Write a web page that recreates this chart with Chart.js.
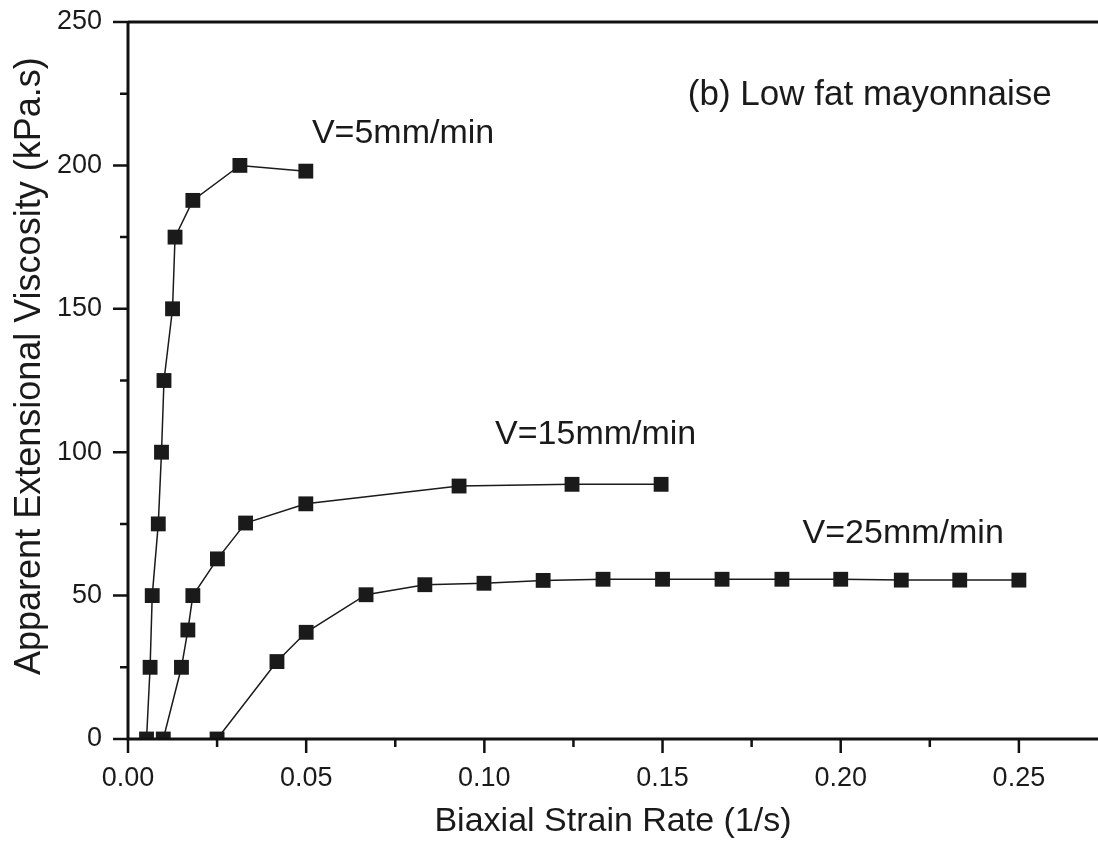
<!DOCTYPE html>
<html>
<head>
<meta charset="utf-8">
<script src="https://cdn.jsdelivr.net/npm/chart.js@4.4.1/dist/chart.umd.min.js"></script>
<style>
  html, body { margin: 0; padding: 0; background: #fff; }
  #wrap { width: 1098px; height: 846px; }
</style>
</head>
<body>
<div id="wrap"><canvas id="myChart"></canvas></div>
<script>
// strain rate (1/s) vs viscosity (kPa.s)
const rate5 = [0.0052, 0.0062, 0.0068, 0.0085, 0.0094, 0.0101, 0.0125, 0.0132, 0.0182, 0.0314, 0.0499];
const visc5 = [0, 25, 50, 75, 100, 125, 150, 175, 187.8, 200, 198];
const rate15 = [0.0099, 0.0150, 0.0168, 0.0182, 0.0251, 0.0330, 0.0499, 0.0929, 0.1246, 0.1496];
const visc15 = [0, 25, 38, 50, 62.8, 75.3, 82, 88.2, 88.8, 88.8];
const rate25 = [0.0250, 0.0418, 0.0500, 0.0668, 0.0833, 0.0999, 0.1165, 0.1333, 0.1500, 0.1667, 0.1835, 0.2000, 0.2170, 0.2334, 0.2500];
const visc25 = [0, 27, 37.2, 50.3, 53.8, 54.3, 55.3, 55.7, 55.7, 55.7, 55.7, 55.7, 55.4, 55.4, 55.4];

const xMajor = [0, 0.05, 0.10, 0.15, 0.20, 0.25];
const xMinor = [0.025, 0.075, 0.125, 0.175, 0.225];
const yMajor = [0, 50, 100, 150, 200, 250];
const yMinor = [25, 75, 125, 175, 225];

const yTitle = 'Apparent Extensional Viscosity (kPa.s)';
const notes = [
    { text: '(b) Low fat mayonnaise', x: 0.1571, y: 221 },
    { text: 'V=5mm/min', x: 0.0516, y: 207.8 },
    { text: 'V=15mm/min', x: 0.1030, y: 102.9 },
    { text: 'V=25mm/min', x: 0.1893, y: 68.3 }
];

const FONT = '"Liberation Sans", Arial, Helvetica, sans-serif';

function points(xs, ys) {
    return xs.map((x, i) => ({ x: x, y: ys[i] }));
}

function series(xs, ys) {
    return {
        data: points(xs, ys),
        showLine: true,
        borderColor: '#1a1a1a',
        borderWidth: 1.5,
        backgroundColor: '#1a1a1a',
        pointStyle: 'rect',
        pointRadius: 10.5,
        pointBorderWidth: 0,
        pointHoverRadius: 10.5
    };
}

// axis lines, ticks, y title and the text notes
const frame = {
    id: 'frame',
    afterDatasetsDraw(chart) {
        const ctx = chart.ctx;
        const a = chart.chartArea;
        const xs = chart.scales.x, ys = chart.scales.y;
        ctx.save();
        ctx.strokeStyle = '#111';
        ctx.lineWidth = 3;
        ctx.beginPath();
        ctx.moveTo(a.left, a.top);
        ctx.lineTo(a.right, a.top);
        ctx.moveTo(a.left, a.top);
        ctx.lineTo(a.left, a.bottom);
        ctx.lineTo(a.right, a.bottom);
        ctx.stroke();
        ctx.lineWidth = 2.5;
        ctx.beginPath();
        xMajor.forEach(v => { const p = xs.getPixelForValue(v); ctx.moveTo(p, a.bottom); ctx.lineTo(p, a.bottom + 14); });
        xMinor.forEach(v => { const p = xs.getPixelForValue(v); ctx.moveTo(p, a.bottom); ctx.lineTo(p, a.bottom + 8); });
        yMajor.forEach(v => { const p = ys.getPixelForValue(v); ctx.moveTo(a.left, p); ctx.lineTo(a.left - 15, p); });
        yMinor.forEach(v => { const p = ys.getPixelForValue(v); ctx.moveTo(a.left, p); ctx.lineTo(a.left - 8, p); });
        ctx.stroke();
        ctx.fillStyle = '#1a1a1a';
        ctx.textBaseline = 'alphabetic';
        ctx.textAlign = 'left';
        notes.forEach((n, i) => {
            ctx.font = (i === 0 ? '35px ' : '34px ') + FONT;
            ctx.fillText(n.text, xs.getPixelForValue(n.x), ys.getPixelForValue(n.y));
        });
        // y title, a bit above the axis middle as in the original
        ctx.translate(30, ys.getPixelForValue(130));
        ctx.rotate(-Math.PI / 2);
        ctx.textAlign = 'center';
        ctx.textBaseline = 'middle';
        ctx.font = '36px ' + FONT;
        ctx.fillText(yTitle, 0, 0);
        ctx.restore();
    }
};

const ctx = document.getElementById('myChart');
const chart = new Chart(ctx, {
    type: 'scatter',
    data: {
        datasets: [series(rate5, visc5), series(rate15, visc15), series(rate25, visc25)]
    },
    options: {
        responsive: true,
        maintainAspectRatio: false,
        animation: false,
        layout: { autoPadding: false, padding: { top: 22, right: 0, left: 0, bottom: 0 } },
        plugins: {
            legend: { display: false },
            tooltip: { enabled: false }
        },
        scales: {
            x: {
                type: 'linear',
                min: 0,
                max: 0.2722,
                afterFit: (s) => {
                    s.height = 107;
                    s.paddingLeft = 0;
                    s.paddingRight = 0;
                },
                afterBuildTicks: (s) => { s.ticks = xMajor.map(v => ({ value: v })); },
                grid: { display: false, drawTicks: false },
                border: { display: false },
                ticks: {
                    padding: 23,
                    color: '#1a1a1a',
                    font: { family: FONT, size: 27 },
                    maxRotation: 0,
                    callback: (v) => v.toFixed(2)
                },
                title: {
                    display: true,
                    text: 'Biaxial Strain Rate (1/s)',
                    color: '#1a1a1a',
                    font: { family: FONT, size: 34 },
                    padding: { top: 0, bottom: 4 }
                }
            },
            y: {
                min: 0,
                max: 250,
                afterFit: (s) => {
                    s.width = 128;
                    s.paddingTop = 0;
                    s.paddingBottom = 0;
                },
                afterBuildTicks: (s) => { s.ticks = yMajor.map(v => ({ value: v })); },
                grid: { display: false, drawTicks: false },
                border: { display: false },
                ticks: {
                    padding: 26,
                    color: '#1a1a1a',
                    font: { family: FONT, size: 27 }
                }
            }
        }
    },
    plugins: [frame]
});
</script>
</body>
</html>
